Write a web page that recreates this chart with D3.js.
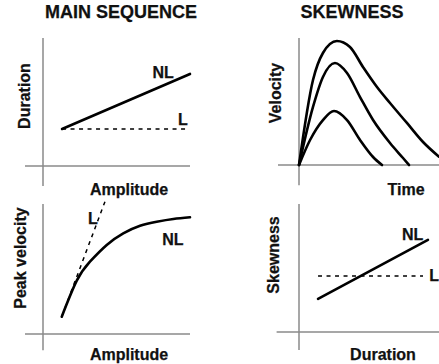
<!DOCTYPE html>
<html>
<head>
<meta charset="utf-8">
<script src="https://cdn.jsdelivr.net/npm/d3@7"></script>
<style>
  body { margin: 0; background: #fff; }
  text { font-family: "Liberation Sans", Arial, sans-serif; font-weight: bold; fill: #111; stroke: #111; stroke-width: 0.25px; }
</style>
</head>
<body>
<div id="chart"></div>
<script>
// datos (unidades arbitrarias 0-100 en cada panel)
const titles = ['MAIN SEQUENCE', 'SKEWNESS'];

// panel 1: duración vs amplitud
const durNL = [[12.7, 28.9], [98, 71.9]];
const durL = [[12.7, 28.9], [96.7, 28.9]];

// panel 2: perfiles de velocidad
const velBig = [[0, 0], [10, 66.9], [17.1, 88.2], [27.1, 97.6], [36.4, 92.9], [45.7, 77.2], [55.7, 61.4], [65, 48.8], [77.1, 33.1], [88.6, 18.1], [100, 6.5]];
const velMid = [[0, 0], [10, 45.7], [17.1, 69.3], [25.7, 80.3], [34.3, 72.4], [43.6, 53.5], [52.9, 35.4], [65, 17.3], [74.3, 5.5], [78.6, 0]];
const velSmall = [[0, 0], [7.9, 19.7], [17.1, 35.4], [25, 42.5], [34.3, 35.4], [43.6, 19.7], [52.9, 6.3], [59.3, 0]];

// panel 3: velocidad pico vs amplitud
const peakNL = [[12.5, 13.3], [22.5, 41], [31.3, 55.6], [42.5, 68.5], [53.5, 77.4], [64.7, 83.3], [75.8, 86.4], [86.9, 88.5], [98, 89.8]];
const peakL = [[12.5, 13.3], [41.3, 101.8]];

// panel 4: asimetría vs duración
const skewNL = [[13.6, 25.8], [92.1, 71.9]];
const skewL = [[13.6, 43.75], [88.6, 43.75]];

const W = 439, H = 364;
const svg = d3.select('#chart').append('svg')
    .attr('width', W)
    .attr('height', H);

// crea un panel con sus escalas
function panel(ox, oy, w, h, hx, vy) {
    const x = d3.scaleLinear().domain([0, 100]).range([ox, ox + w]);
    const y = d3.scaleLinear().domain([0, 100]).range([oy, oy - h]);
    // ejes grises
    svg.append('line')
        .attr('x1', x(hx[0])).attr('x2', x(hx[1]))
        .attr('y1', y(0)).attr('y2', y(0))
        .attr('stroke', '#8a8a8a').attr('stroke-width', 1.5);
    svg.append('line')
        .attr('x1', x(0)).attr('x2', x(0))
        .attr('y1', y(vy[0])).attr('y2', y(vy[1]))
        .attr('stroke', '#8a8a8a').attr('stroke-width', 1.5);
    return { x, y };
}

function draw(p, data, dashed, curve) {
    const line = d3.line()
        .x(d => p.x(d[0]))
        .y(d => p.y(d[1]))
        .curve(curve || d3.curveLinear);
    svg.append('path')
        .datum(data)
        .attr('d', line)
        .attr('fill', 'none')
        .attr('stroke', '#000')
        .attr('stroke-width', dashed ? 1.5 : 2.6)
        .attr('stroke-dasharray', dashed ? '4,4.5' : null)
        .attr('stroke-linecap', dashed ? 'butt' : 'round');
}

function label(x, y, txt, size, rotate, anchor) {
    const t = svg.append('text')
        .attr('font-size', size + 'px')
        .attr('text-anchor', anchor || 'middle')
        .text(txt);
    if (rotate) {
        t.attr('transform', `translate(${x},${y}) rotate(-90)`)
         .attr('dy', '0.36em');
    } else {
        t.attr('x', x).attr('y', y);
    }
}

// títulos
label(121, 17.5, titles[0], 18);
label(352, 17.5, titles[1], 18);

// panel 1
const p1 = panel(43, 166, 150, 128, [-12, 98], [100, -15.6]);
draw(p1, durL, true);
draw(p1, durNL, false);
label(p1.x(73), p1.y(68.5), 'NL', 16, false, 'start');
label(p1.x(90), p1.y(32), 'L', 16, false, 'start');
label(24, 96, 'Duration', 16, true);
label(129, 195, 'Amplitude', 16);

// panel 2
const p2 = panel(299, 165, 140, 127, [-15, 100], [100, -16]);
draw(p2, velBig, false, d3.curveMonotoneX);
draw(p2, velMid, false, d3.curveMonotoneX);
draw(p2, velSmall, false, d3.curveMonotoneX);
label(275, 93, 'Velocity', 16, true);
label(406, 195, 'Time', 16);

// panel 3
const p3 = panel(43, 334, 150, 130, [-12, 98], [100, -12.5]);
draw(p3, peakL, true);
draw(p3, peakNL, false, d3.curveNatural);
label(p3.x(30), p3.y(84.5), 'L', 16, false, 'start');
label(p3.x(79.5), p3.y(68.5), 'NL', 16, false, 'start');
label(20, 258, 'Peak velocity', 16, true);
label(129, 360, 'Amplitude', 16);

// panel 4
const p4 = panel(299, 332, 140, 128, [-16, 100], [100, -14]);
draw(p4, skewL, true);
draw(p4, skewNL, false);
label(p4.x(73.5), p4.y(72), 'NL', 16, false, 'start');
label(p4.x(93), p4.y(39.5), 'L', 16, false, 'start');
label(273, 255, 'Skewness', 16, true);
label(383, 360, 'Duration', 16);
</script>
</body>
</html>
